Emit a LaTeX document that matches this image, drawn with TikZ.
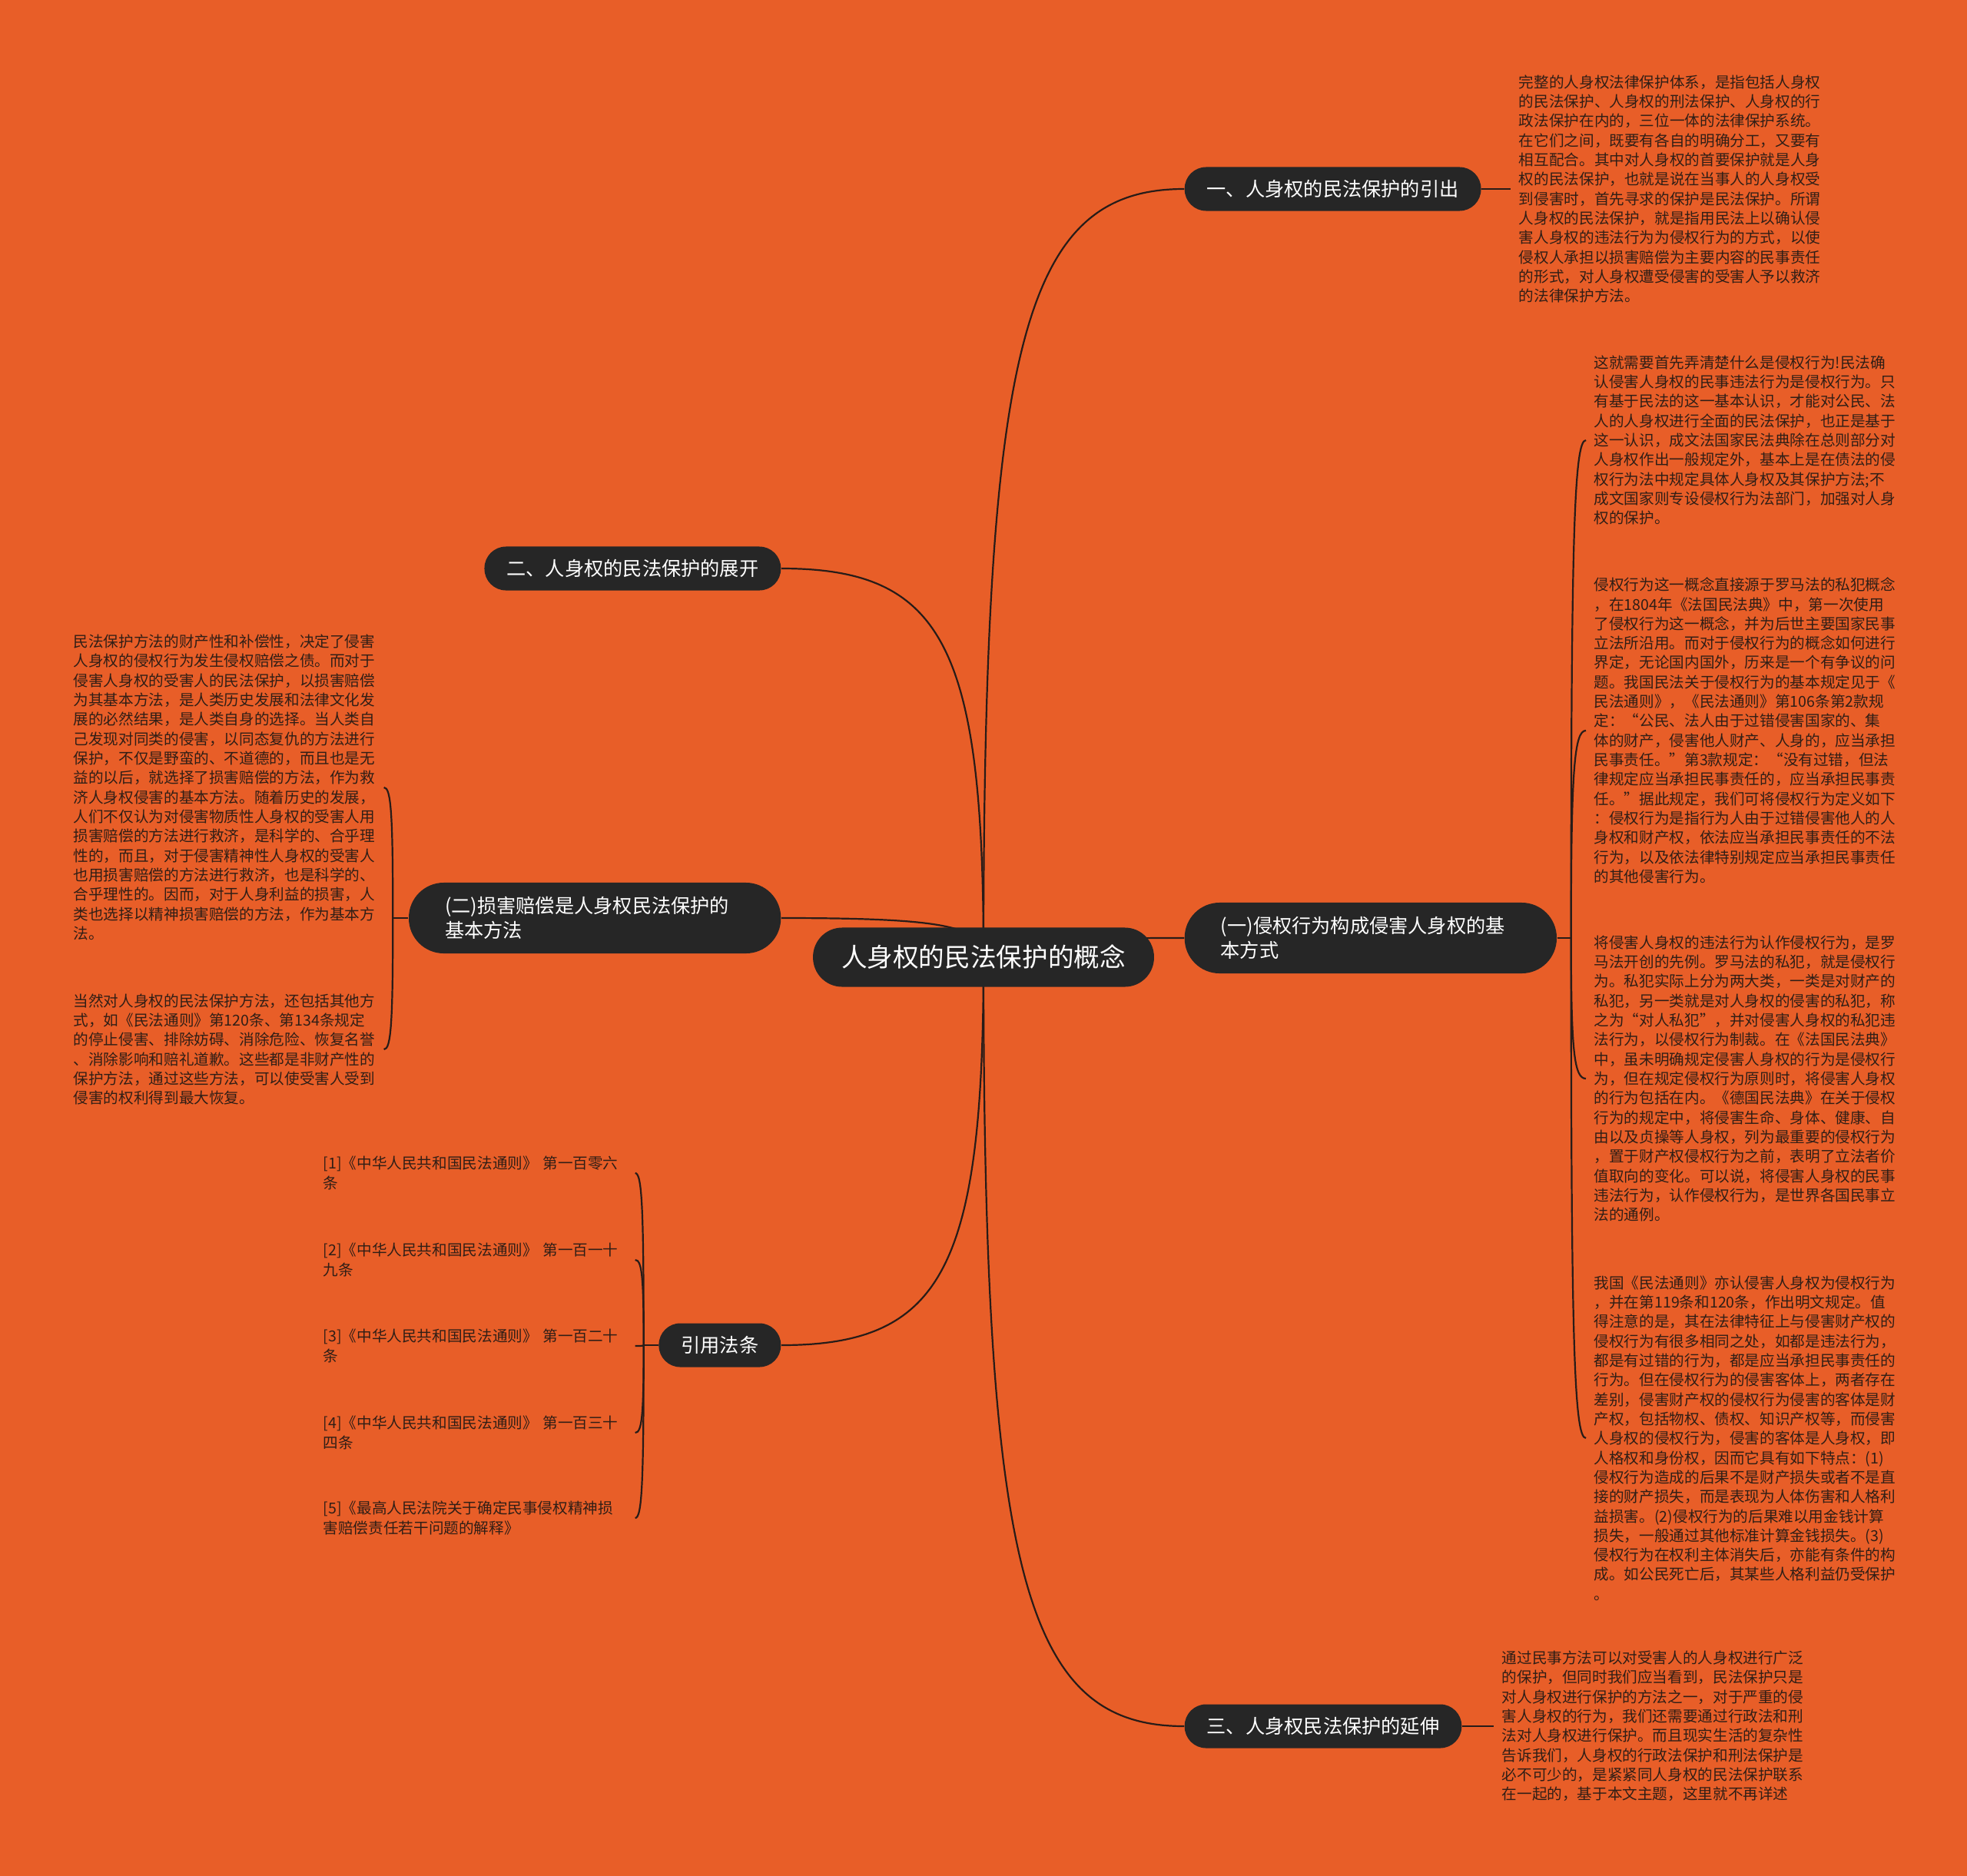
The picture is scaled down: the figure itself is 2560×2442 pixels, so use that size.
\documentclass[tikz,border=0pt]{standalone}
\usepackage{fontspec}
\setmainfont{Noto Sans CJK SC}
\usepackage{xcolor}
\usepackage{tikz}
\usetikzlibrary{positioning,calc,backgrounds}
\definecolor{bgorange}{RGB}{232,94,40}
\definecolor{nodedark}{RGB}{38,38,38}
\definecolor{paratext}{RGB}{48,30,22}
\definecolor{linkdark}{RGB}{40,28,24}
\newcommand{\rootfont}{\fontsize{9.56pt}{11.5pt}\selectfont}
\newcommand{\branchfont}{\fontsize{7.17pt}{9.1pt}\selectfont}
\newcommand{\parafont}{\fontsize{5.58pt}{7.2pt}\selectfont}

\begin{document}
\begin{tikzpicture}[x=0.01cm,y=-0.01cm,
  topic/.style={fill=nodedark,text=white,rounded corners=0.38cm,minimum height=0.77cm,inner xsep=0.37cm,inner ysep=0pt,font=\rootfont},
  branch/.style={fill=nodedark,text=white,rounded corners=0.28cm,minimum height=0.57cm,inner xsep=0.29cm,inner ysep=0pt,font=\branchfont},
  branchtwo/.style={branch,rounded corners=0.455cm,minimum height=0.92cm,text width=3.9cm,align=left,inner xsep=0.47cm},
  para/.style={text=paratext,font=\parafont,align=left,inner xsep=0.1cm,inner ysep=0pt},
  link/.style={draw=linkdark,line width=0.022cm,to path={.. controls ($(\tikztostart |- \tikztotarget)!0.2!(\tikztostart)$) and ($(\tikztostart |- \tikztotarget)!0.2!(\tikztotarget)$) .. (\tikztotarget)}},
  stub/.style={draw=linkdark,line width=0.022cm}]
\useasboundingbox (0,0) rectangle (2560,2442);
\begin{scope}[on background layer]
\fill[bgorange] (0,0) rectangle (2560,2442);
\end{scope}
\node[topic] (root) at (1280,1246) {人身权的民法保护的概念};
\node[branch,anchor=west] (r1) at (1541,246) {一、人身权的民法保护的引出};
\node[branchtwo,anchor=west] (r2) at (1541,1221) {(一)侵权行为构成侵害人身权的基\\本方式};
\node[branch,anchor=west] (r3) at (1541,2247) {三、人身权民法保护的延伸};
\node[branch,anchor=east] (l1) at (1017,740) {二、人身权的民法保护的展开};
\node[branchtwo,anchor=east] (l2) at (1017,1195) {(二)损害赔偿是人身权民法保护的\\基本方法};
\node[branch,anchor=east] (l3) at (1017,1751) {引用法条};
\node[para,right=0.38cm of r1] (p1) {完整的人身权法律保护体系，是指包括人身权\\的民法保护、人身权的刑法保护、人身权的行\\政法保护在内的，三位一体的法律保护系统。\\在它们之间，既要有各自的明确分工，又要有\\相互配合。其中对人身权的首要保护就是人身\\权的民法保护，也就是说在当事人的人身权受\\到侵害时，首先寻求的保护是民法保护。所谓\\人身权的民法保护，就是指用民法上以确认侵\\害人身权的违法行为为侵权行为的方式，以使\\侵权人承担以损害赔偿为主要内容的民事责任\\的形式，对人身权遭受侵害的受害人予以救济\\的法律保护方法。};
\coordinate[right=0.18cm of r2] (r2j);
\node[para,anchor=west] (p2a) at (2064,573) {这就需要首先弄清楚什么是侵权行为!民法确\\认侵害人身权的民事违法行为是侵权行为。只\\有基于民法的这一基本认识，才能对公民、法\\人的人身权进行全面的民法保护，也正是基于\\这一认识，成文法国家民法典除在总则部分对\\人身权作出一般规定外，基本上是在债法的侵\\权行为法中规定具体人身权及其保护方法;不\\成文国家则专设侵权行为法部门，加强对人身\\权的保护。};
\node[para,anchor=west] (p2b) at (2064,951) {侵权行为这一概念直接源于罗马法的私犯概念\\，在1804年《法国民法典》中，第一次使用\\了侵权行为这一概念，并为后世主要国家民事\\立法所沿用。而对于侵权行为的概念如何进行\\界定，无论国内国外，历来是一个有争议的问\\题。我国民法关于侵权行为的基本规定见于《\\民法通则》，《民法通则》第106条第2款规\\定：“公民、法人由于过错侵害国家的、集\\体的财产，侵害他人财产、人身的，应当承担\\民事责任。”第3款规定：“没有过错，但法\\律规定应当承担民事责任的，应当承担民事责\\任。”据此规定，我们可将侵权行为定义如下\\：侵权行为是指行为人由于过错侵害他人的人\\身权和财产权，依法应当承担民事责任的不法\\行为，以及依法律特别规定应当承担民事责任\\的其他侵害行为。};
\node[para,anchor=west] (p2c) at (2064,1404) {将侵害人身权的违法行为认作侵权行为，是罗\\马法开创的先例。罗马法的私犯，就是侵权行\\为。私犯实际上分为两大类，一类是对财产的\\私犯，另一类就是对人身权的侵害的私犯，称\\之为“对人私犯”，并对侵害人身权的私犯违\\法行为，以侵权行为制裁。在《法国民法典》\\中，虽未明确规定侵害人身权的行为是侵权行\\为，但在规定侵权行为原则时，将侵害人身权\\的行为包括在内。《德国民法典》在关于侵权\\行为的规定中，将侵害生命、身体、健康、自\\由以及贞操等人身权，列为最重要的侵权行为\\，置于财产权侵权行为之前，表明了立法者价\\值取向的变化。可以说，将侵害人身权的民事\\违法行为，认作侵权行为，是世界各国民事立\\法的通例。};
\node[para,anchor=west] (p2d) at (2064,1872) {我国《民法通则》亦认侵害人身权为侵权行为\\，并在第119条和120条，作出明文规定。值\\得注意的是，其在法律特征上与侵害财产权的\\侵权行为有很多相同之处，如都是违法行为，\\都是有过错的行为，都是应当承担民事责任的\\行为。但在侵权行为的侵害客体上，两者存在\\差别，侵害财产权的侵权行为侵害的客体是财\\产权，包括物权、债权、知识产权等，而侵害\\人身权的侵权行为，侵害的客体是人身权，即\\人格权和身份权，因而它具有如下特点：(1)\\侵权行为造成的后果不是财产损失或者不是直\\接的财产损失，而是表现为人体伤害和人格利\\益损害。(2)侵权行为的后果难以用金钱计算\\损失，一般通过其他标准计算金钱损失。(3)\\侵权行为在权利主体消失后，亦能有条件的构\\成。如公民死亡后，其某些人格利益仍受保护\\。};
\node[para,right=0.41cm of r3] (p3) {通过民事方法可以对受害人的人身权进行广泛\\的保护，但同时我们应当看到，民法保护只是\\对人身权进行保护的方法之一，对于严重的侵\\害人身权的行为，我们还需要通过行政法和刑\\法对人身权进行保护。而且现实生活的复杂性\\告诉我们，人身权的行政法保护和刑法保护是\\必不可少的，是紧紧同人身权的民法保护联系\\在一起的，基于本文主题，这里就不再详述};
\coordinate[left=0.2cm of l2] (l2j);
\node[para,text width=3.93cm,anchor=west] (q1) at (85,1025) {民法保护方法的财产性和补偿性，决定了侵害\\人身权的侵权行为发生侵权赔偿之债。而对于\\侵害人身权的受害人的民法保护，以损害赔偿\\为其基本方法，是人类历史发展和法律文化发\\展的必然结果，是人类自身的选择。当人类自\\己发现对同类的侵害，以同态复仇的方法进行\\保护，不仅是野蛮的、不道德的，而且也是无\\益的以后，就选择了损害赔偿的方法，作为救\\济人身权侵害的基本方法。随着历史的发展，\\人们不仅认为对侵害物质性人身权的受害人用\\损害赔偿的方法进行救济，是科学的、合乎理\\性的，而且，对于侵害精神性人身权的受害人\\也用损害赔偿的方法进行救济，也是科学的、\\合乎理性的。因而，对于人身利益的损害，人\\类也选择以精神损害赔偿的方法，作为基本方\\法。};
\node[para,text width=3.93cm,anchor=west] (q2) at (85,1366) {当然对人身权的民法保护方法，还包括其他方\\式，如《民法通则》第120条、第134条规定\\的停止侵害、排除妨碍、消除危险、恢复名誉\\、消除影响和赔礼道歉。这些都是非财产性的\\保护方法，通过这些方法，可以使受害人受到\\侵害的权利得到最大恢复。};
\coordinate[left=0.19cm of l3] (l3j);
\node[para,text width=3.95cm,anchor=west] (f1) at (410,1527) {[1]《中华人民共和国民法通则》 第一百零六\\条};
\node[para,text width=3.95cm,anchor=west] (f2) at (410,1640) {[2]《中华人民共和国民法通则》 第一百一十\\九条};
\node[para,text width=3.95cm,anchor=west] (f3) at (410,1752) {[3]《中华人民共和国民法通则》 第一百二十\\条};
\node[para,text width=3.95cm,anchor=west] (f4) at (410,1865) {[4]《中华人民共和国民法通则》 第一百三十\\四条};
\node[para,text width=3.95cm,anchor=west] (f5) at (410,1976) {[5]《最高人民法院关于确定民事侵权精神损\\害赔偿责任若干问题的解释》};
\begin{scope}[on background layer]
\draw[link] (root.center) to (r1.west); \draw[link] (root.center) to (r2.west); \draw[link] (root.center) to (r3.west);
\draw[link] (root.center) to (l1.east); \draw[link] (root.center) to (l2.east); \draw[link] (root.center) to (l3.east);
\draw[stub] (r1.east)--(p1.west); \draw[stub] (r3.east)--(p3.west);
\draw[stub] (r2.east)--(r2j);
\draw[link] (r2j) to (p2a.west); \draw[link] (r2j) to (p2b.west); \draw[link] (r2j) to (p2c.west); \draw[link] (r2j) to (p2d.west);
\draw[stub] (l2.west)--(l2j);
\draw[link] (l2j) to (q1.east); \draw[link] (l2j) to (q2.east);
\draw[stub] (l3.west)--(l3j);
\draw[link] (l3j) to (f1.east); \draw[link] (l3j) to (f2.east); \draw[link] (l3j) to (f3.east);
\draw[link] (l3j) to (f4.east); \draw[link] (l3j) to (f5.east);
\end{scope}
\end{tikzpicture}
\end{document}
